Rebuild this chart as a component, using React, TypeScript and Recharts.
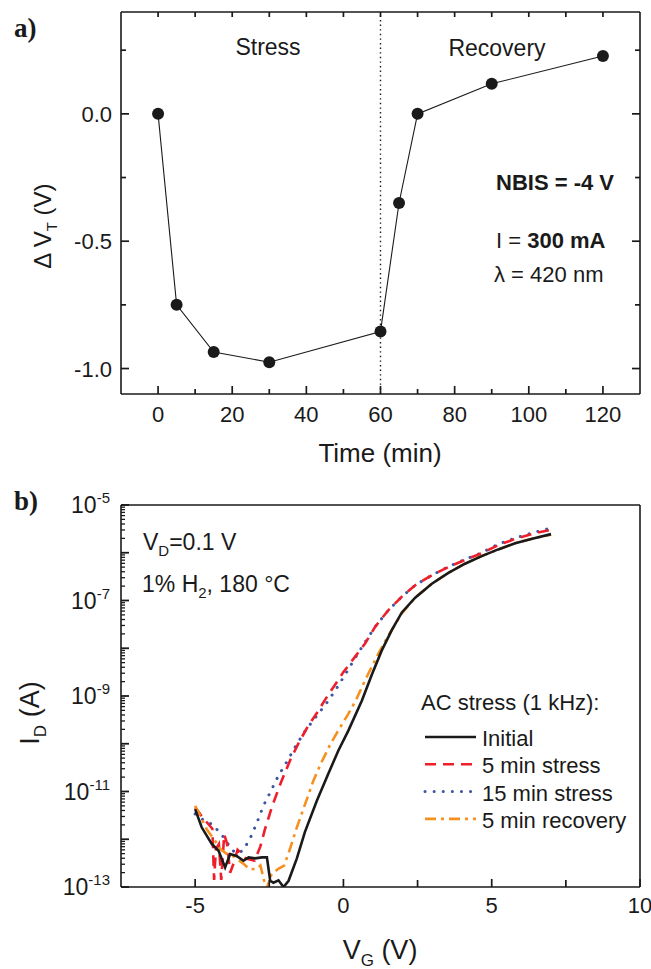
import React from 'react';
import { LineChart, Line, XAxis, YAxis, ReferenceLine } from 'recharts';

const FONT = '"Liberation Sans", Arial, Helvetica, sans-serif';
const SERIF = '"Liberation Serif", "Times New Roman", serif';
const INK = '#1a1a1a';

// ---------------- Panel a) data ----------------
const timeMin = [0, 5, 15, 30, 60, 65, 70, 90, 120];
const deltaVt = [0.0, -0.75, -0.935, -0.975, -0.855, -0.35, 0.0, 0.118, 0.227];
const timeMajorTicks = [0, 20, 40, 60, 80, 100, 120];
const timeMinorTicks = [10, 30, 50, 70, 90, 110];
const vtMajorTicks = [-1.0, -0.5, 0.0];
const vtMinorTicks = [-0.75, -0.25, 0.25];
const stressEndMin = 60;

// ---------------- Panel b) data (I_D given as log10 of current in A) ----------------
const seriesNames = ['Initial', '5 min stress', '15 min stress', '5 min recovery'];

const initialVg = [-5, -4.78, -4.44, -4.21, -3.99, -3.82, -3.6, -3.37, -3.2, -2.98, -2.75, -2.58, -2.47, -2.36, -2.19, -2.02, -1.85, -1.57, -1.3, -0.9, -0.51, -0.17, 0.17, 0.62, 0.96, 1.29, 1.63, 1.97, 2.42, 2.98, 3.54, 4.1, 4.66, 5.22, 5.79, 6.4, 7.0];
const initialLogId = [-11.37, -11.75, -12.1, -12.24, -12.59, -12.31, -12.35, -12.45, -12.38, -12.4, -12.38, -12.38, -12.87, -12.91, -12.86, -13.0, -12.87, -12.4, -11.85, -11.2, -10.63, -10.14, -9.72, -9.1, -8.55, -8.05, -7.62, -7.25, -6.94, -6.65, -6.42, -6.23, -6.07, -5.93, -5.8, -5.7, -5.61];

const stress5Vg = [-5, -4.8, -4.6, -4.42, -4.36, -4.3, -4.2, -4.12, -4.02, -3.92, -3.82, -3.7, -3.57, -3.3, -3.0, -2.8, -2.65, -2.4, -2.1, -1.8, -1.5, -1.2, -0.9, -0.6, -0.3, 0, 0.39, 0.73, 1.07, 1.52, 1.97, 2.42, 2.98, 3.54, 4.1, 4.66, 5.22, 5.79, 6.4, 7.0];
const stress5LogId = [-11.33, -11.5, -11.65, -11.78, -12.85, -12.2, -12.1, -12.85, -11.9, -12.1, -12.7, -12.5, -12.22, -12.4, -12.45, -12.15, -11.8, -11.3, -10.8, -10.35, -9.97, -9.64, -9.36, -9.06, -8.78, -8.5, -8.18, -7.9, -7.55, -7.2, -6.92, -6.68, -6.47, -6.3, -6.15, -6.01, -5.84, -5.71, -5.6, -5.52];

const stress15Vg = [-5, -4.69, -4.38, -4.2, -3.99, -3.8, -3.6, -3.37, -3.09, -2.89, -2.7, -2.47, -2.21, -1.91, -1.63, -1.29, -0.93, -0.56, -0.22, 0.08, 0.39, 0.71, 1.07, 1.52, 1.97, 2.42, 2.98, 3.54, 4.1, 4.66, 5.22, 5.79, 6.4, 7.0];
const stress15LogId = [-11.47, -11.61, -11.7, -11.85, -11.99, -12.2, -12.3, -12.23, -11.91, -11.61, -11.3, -11.02, -10.69, -10.38, -10.07, -9.73, -9.44, -9.14, -8.83, -8.53, -8.21, -7.89, -7.55, -7.2, -6.92, -6.68, -6.47, -6.29, -6.14, -6.0, -5.82, -5.69, -5.58, -5.48];

const recovery5Vg = [-5, -4.83, -4.6, -4.33, -4.16, -3.95, -3.7, -3.4, -3.15, -2.92, -2.8, -2.7, -2.6, -2.42, -2.2, -2.0, -1.8, -1.57, -1.29, -1.01, -0.75, -0.45, -0.2, 0.17, 0.42, 0.73, 1.18, 1.5, 1.97, 2.42, 2.98, 3.54, 4.1, 4.66, 5.22, 5.79, 6.4, 7.0];
const recovery5LogId = [-11.3, -11.51, -11.8, -12.03, -12.2, -12.3, -12.36, -12.5, -12.63, -12.62, -12.55, -12.8, -13.05, -12.73, -12.62, -12.55, -12.2, -11.75, -11.26, -10.77, -10.4, -10.02, -9.75, -9.37, -9.09, -8.67, -8.11, -7.75, -7.27, -6.94, -6.65, -6.42, -6.23, -6.07, -5.93, -5.8, -5.7, -5.62];

const vgMajorTicks = [-5, 0, 5, 10];
const vgMinorTicks = [-2.5, 2.5, 7.5];
const idDecadeExps = [-13, -12, -11, -10, -9, -8, -7, -6, -5];
const idLabelExps = [-13, -11, -9, -7, -5];

// ---------------- layout ----------------
const CHART_W = 651;
const MARGIN_L = 61;
const MARGIN_R = 9;
const YAXIS_L_W = 60;
const YAXIS_R_W = 2;
const PLOT_W = CHART_W - MARGIN_L - MARGIN_R - YAXIS_L_W - YAXIS_R_W;

// ---------------- helpers ----------------
const isIn = (arr: number[], v: number) => arr.some((a) => Math.abs(a - v) < 1e-9);

const panelAData = timeMin.map((t, i) => ({ t, dvt: deltaVt[i] }));
const toSeries = (vg: number[], logId: number[]) => vg.map((v, i) => ({ vg: v, id: Math.pow(10, logId[i]) }));
const bSeries = [
  { name: seriesNames[0], data: toSeries(initialVg, initialLogId), color: '#1a1a1a', dash: undefined, width: 2.6, cap: 'butt' },
  { name: seriesNames[1], data: toSeries(stress5Vg, stress5LogId), color: '#ee1f2b', dash: '11 7', width: 2.6, cap: 'butt' },
  { name: seriesNames[2], data: toSeries(stress15Vg, stress15LogId), color: '#3d55a6', dash: '0.1 9', width: 3, cap: 'round' },
  { name: seriesNames[3], data: toSeries(recovery5Vg, recovery5LogId), color: '#f7901e', dash: '11 5 3 5', width: 2.6, cap: 'butt' },
];
const drawOrder = [2, 1, 3, 0];

const idTicks: number[] = [];
idDecadeExps.forEach((e) => {
  if (e === -5) { idTicks.push(Math.pow(10, e)); return; }
  for (let m = 1; m <= 9; m++) idTicks.push(m * Math.pow(10, e));
});
const idExpOf = (v: number) => Math.log10(v);
const isDecade = (v: number) => Math.abs(idExpOf(v) - Math.round(idExpOf(v))) < 1e-6;

const TICK_W = 1.7;

// ---------------- tick renderers ----------------
const XTick = (p: any) => {
  const { x, y, payload, majors, top, fmt, majorLen, minorLen, labelDy } = p;
  const major = isIn(majors, payload.value);
  const len = major ? majorLen : minorLen;
  return (
    <g>
      <line x1={x} y1={y} x2={x} y2={top ? y + len : y - len} stroke={INK} strokeWidth={TICK_W} />
      {!top && major && fmt ? (
        <text x={x} y={y + labelDy} textAnchor="middle" fontSize={22} fontFamily={FONT} fill={INK}>
          {fmt(payload.value)}
        </text>
      ) : null}
    </g>
  );
};

// left axis ticks, mirrored onto the right frame edge (plot width away)
const YTickLin = (p: any) => {
  const { x, y, payload, majors, mirrorDx } = p;
  const major = isIn(majors, payload.value);
  const len = major ? 8 : 5;
  const xr = x + mirrorDx;
  return (
    <g>
      <line x1={x} y1={y} x2={x + len} y2={y} stroke={INK} strokeWidth={TICK_W} />
      <line x1={xr} y1={y} x2={xr - len} y2={y} stroke={INK} strokeWidth={TICK_W} />
      {major ? (
        <text x={x - 9} y={y + 8} textAnchor="end" fontSize={22} fontFamily={FONT} fill={INK}>
          {payload.value.toFixed(1)}
        </text>
      ) : null}
    </g>
  );
};

const YTickLog = (p: any) => {
  const { x, y, payload } = p;
  const v = payload.value;
  const dec = isDecade(v);
  const exp = Math.round(idExpOf(v));
  const len = dec ? 8 : 4;
  return (
    <g>
      <line x1={x} y1={y} x2={x + len} y2={y} stroke={INK} strokeWidth={dec ? 1.8 : 1.3} />
      {dec && isIn(idLabelExps, exp) ? (
        <text x={x - 11} y={y + 8} textAnchor="end" fontSize={23} fontFamily={FONT} fill={INK}>
          10<tspan dy={-10} fontSize={15}>{String(exp)}</tspan>
        </text>
      ) : null}
    </g>
  );
};

const axisLine = { stroke: INK, strokeWidth: 1.6 };

export default function App() {
  const timeTicks = [...timeMajorTicks, ...timeMinorTicks].sort((a, b) => a - b);
  const vtTicks = [...vtMajorTicks, ...vtMinorTicks].sort((a, b) => a - b);
  const vgTicks = [...vgMajorTicks, ...vgMinorTicks].sort((a, b) => a - b);
  const margins = (top: number, bottom: number) => ({ top, bottom, left: MARGIN_L, right: MARGIN_R });

  return (
    <div style={{ position: 'absolute', left: 0, top: 0, width: 651, height: 969, background: '#fff', fontFamily: FONT }}>
      {/* Panel a */}
      <div style={{ position: 'absolute', left: 0, top: 0 }}>
        <LineChart width={CHART_W} height={480} data={panelAData} margin={margins(10, 56)}>
          <XAxis xAxisId="b" dataKey="t" type="number" domain={[-10, 130]} ticks={timeTicks} interval={0}
            height={30} tickSize={0} tickMargin={0} tickLine={false} axisLine={axisLine}
            tick={(p: any) => <XTick {...p} majors={timeMajorTicks} majorLen={8} minorLen={5} labelDy={28} fmt={(v: number) => String(v)} />} />
          <XAxis xAxisId="t" orientation="top" dataKey="t" type="number" domain={[-10, 130]} ticks={timeTicks} interval={0}
            height={2} tickSize={0} tickMargin={0} tickLine={false} axisLine={axisLine}
            tick={(p: any) => <XTick {...p} top majors={timeTicks} majorLen={5} minorLen={5} />} />
          <YAxis yAxisId="l" type="number" domain={[-1.1, 0.4]} ticks={vtTicks} interval={0}
            width={YAXIS_L_W} tickSize={0} tickMargin={0} tickLine={false} axisLine={axisLine}
            tick={(p: any) => <YTickLin {...p} majors={vtMajorTicks} mirrorDx={PLOT_W} />} />
          <YAxis yAxisId="r" orientation="right" type="number" domain={[-1.1, 0.4]}
            width={YAXIS_R_W} tick={false} tickLine={false} axisLine={axisLine} />
          <ReferenceLine xAxisId="b" yAxisId="l" x={stressEndMin} stroke={INK} strokeWidth={1.4} strokeDasharray="1.4 3.2" />
          <Line xAxisId="b" yAxisId="l" dataKey="dvt" type="linear" stroke={INK} strokeWidth={1.1}
            dot={{ r: 6, fill: INK, stroke: INK, strokeWidth: 0 }} activeDot={false} isAnimationActive={false} />
        </LineChart>
      </div>

      {/* Panel b */}
      <div style={{ position: 'absolute', left: 0, top: 480 }}>
        <LineChart width={CHART_W} height={489} margin={margins(23, 52)}>
          <XAxis xAxisId="b" dataKey="vg" type="number" domain={[-7.5, 10]} ticks={vgTicks} interval={0} allowDataOverflow
            height={30} tickSize={0} tickMargin={0} tickLine={false} axisLine={axisLine}
            tick={(p: any) => <XTick {...p} majors={vgMajorTicks} majorLen={8} minorLen={7} labelDy={26} fmt={(v: number) => String(v)} />} />
          <XAxis xAxisId="t" orientation="top" dataKey="vg" type="number" domain={[-7.5, 10]} ticks={vgTicks} interval={0}
            height={2} tickSize={0} tickMargin={0} tickLine={false} axisLine={axisLine}
            tick={(p: any) => <XTick {...p} top majors={vgTicks} majorLen={7} minorLen={7} />} />
          <YAxis yAxisId="l" dataKey="id" type="number" scale="log" domain={[1e-13, 1e-5]} allowDataOverflow ticks={idTicks} interval={0}
            width={YAXIS_L_W} tickSize={0} tickMargin={0} tickLine={false} axisLine={axisLine}
            tick={(p: any) => <YTickLog {...p} />} />
          <YAxis yAxisId="r" orientation="right" type="number" scale="log" domain={[1e-13, 1e-5]} allowDataOverflow
            width={YAXIS_R_W} tick={false} tickLine={false} axisLine={axisLine} />
          {drawOrder.map((k) => {
            const s = bSeries[k];
            return (
              <Line key={s.name} xAxisId="b" yAxisId="l" data={s.data} dataKey="id" name={s.name} type="linear"
                stroke={s.color} strokeWidth={s.width} strokeDasharray={s.dash} strokeLinecap={s.cap as any}
                dot={false} activeDot={false} isAnimationActive={false} />
            );
          })}
        </LineChart>
      </div>

      {/* Text overlay */}
      <svg width={651} height={969} style={{ position: 'absolute', left: 0, top: 0, pointerEvents: 'none' }}>
        <g fontFamily={FONT} fill={INK}>
          {/* Panel a */}
          <text x={14} y={37} fontFamily={SERIF} fontWeight="bold" fontSize={27}>a)</text>
          <text x={268} y={55} textAnchor="middle" fontSize={23}>Stress</text>
          <text x={497} y={56} textAnchor="middle" fontSize={23}>Recovery</text>
          <text x={496} y={190} fontSize={22} fontWeight="bold">NBIS = -4 V</text>
          <text x={496} y={248} fontSize={22}>I = <tspan fontWeight="bold">300 mA</tspan></text>
          <text x={494} y={282} fontSize={22}>λ = 420 nm</text>
          <text x={51} y={226} fontSize={24} textAnchor="middle" transform="rotate(-90 51 226)">
            Δ V<tspan dy={6} fontSize={15}>T</tspan><tspan dy={-6}> (V)</tspan>
          </text>
          <text x={380} y={462} textAnchor="middle" fontSize={26}>Time (min)</text>

          {/* Panel b */}
          <text x={14} y={510} fontFamily={SERIF} fontWeight="bold" fontSize={27}>b)</text>
          <text x={143} y={550} fontSize={23}>V<tspan dy={6} fontSize={15}>D</tspan><tspan dy={-6}>=0.1 V</tspan></text>
          <text x={142} y={592} fontSize={23}>1% H<tspan dy={6} fontSize={15}>2</tspan><tspan dy={-6}>, 180 °C</tspan></text>
          <text x={39} y={713} fontSize={27} textAnchor="middle" transform="rotate(-90 39 713)">
            I<tspan dy={7} fontSize={17}>D</tspan><tspan dy={-7}> (A)</tspan>
          </text>
          <text x={380} y={959} textAnchor="middle" fontSize={27}>
            V<tspan dy={7} fontSize={17}>G</tspan><tspan dy={-7}> (V)</tspan>
          </text>

          {/* Legend */}
          <text x={421} y={710} fontSize={22}>AC stress (1 kHz):</text>
          {bSeries.map((s, i) => {
            const base = 746 + i * 27.3;
            return (
              <g key={s.name}>
                <line x1={425} x2={476} y1={base - 9} y2={base - 9} stroke={s.color} strokeWidth={s.width}
                  strokeDasharray={s.dash} strokeLinecap={s.cap as any} />
                <text x={482} y={base} fontSize={22}>{s.name}</text>
              </g>
            );
          })}
        </g>
      </svg>
    </div>
  );
}
